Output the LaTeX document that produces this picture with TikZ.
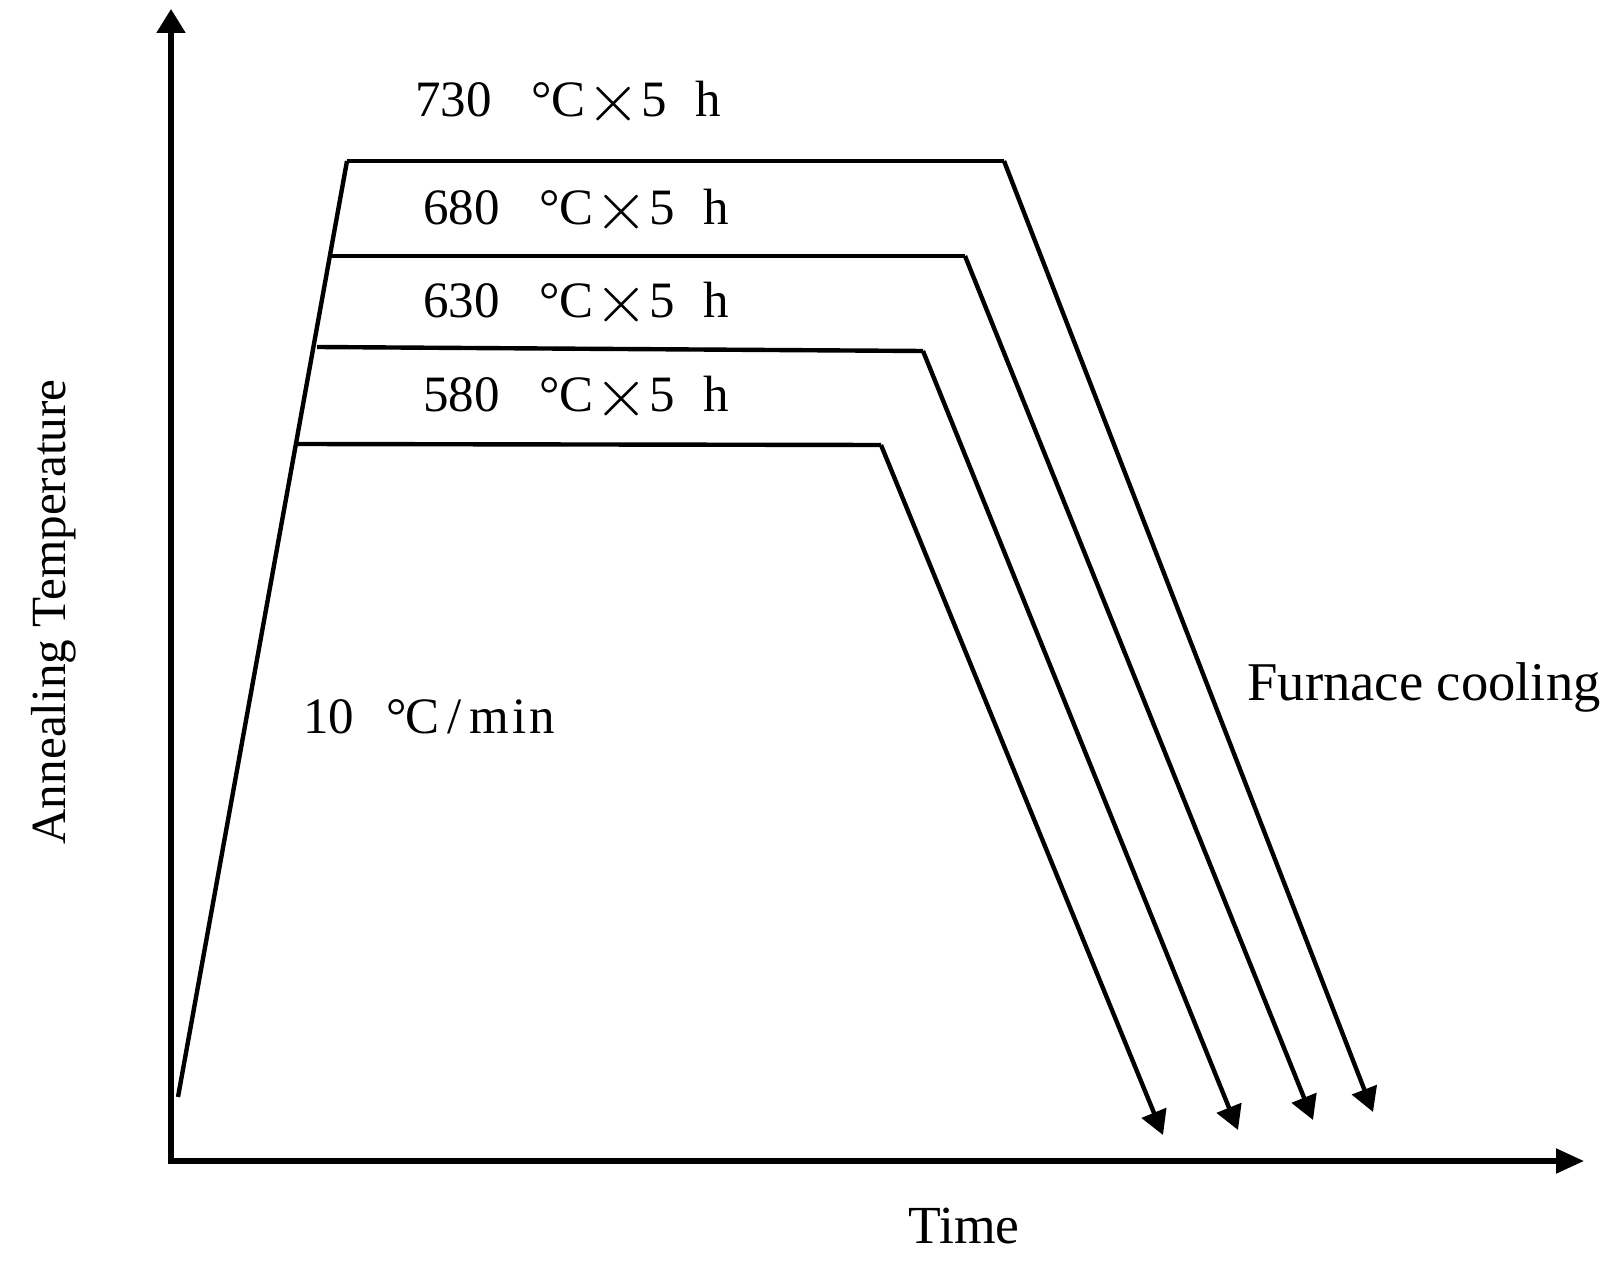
\documentclass[tikz,border=0pt]{standalone}
\usepackage{fontspec}
\setmainfont{Liberation Serif}
\usepackage{tikz}
\usetikzlibrary{arrows.meta}

\newcommand{\degC}{\textdegree\kern-0.5pt C}
\newcommand{\bigtimes}{\raisebox{-2.5pt}{\scalebox{1.4}{$\times$}}}
\newcommand{\holdtext}[1]{#1\hspace{20pt}\degC\hspace{0.5pt}\bigtimes\hspace{0.5pt}5\hspace{14pt}h}

\begin{document}
\begin{tikzpicture}[x=0.5pt,y=-0.5pt,
	holdlabel/.style={anchor=base west, inner sep=0pt, font=\fontsize{25.5}{30}\selectfont},
	cool/.style={line width=2.2pt, -{Triangle[length=12pt,width=13pt]}}]
	\useasboundingbox (0,0) rectangle (1616,1261);

	% Points
	\coordinate (o) at (171,1161);
	\coordinate (ytip) at (171,9);
	\coordinate (xtip) at (1584,1161);
	\coordinate (r0) at (178,1097);
	\coordinate (h730) at (347,161);
	\coordinate (h730_end) at (1004,161);
	\coordinate (c730) at (1373,1112);
	\coordinate (h680) at (330,256);
	\coordinate (h680_end) at (965,256);
	\coordinate (c680) at (1313,1120);
	\coordinate (h630) at (317,347);
	\coordinate (h630_end) at (923,351);
	\coordinate (c630) at (1238,1130);
	\coordinate (h580) at (297,444);
	\coordinate (h580_end) at (881,445);
	\coordinate (c580) at (1163,1135);

	% Axis
	\draw[line width=2.6pt, {Triangle[length=12pt,width=14pt]}-{Triangle[length=14pt,width=12pt]}] (ytip) -- (o) -- (xtip);

	% Lines
	\draw[line width=2.2pt] (r0) -- (h730);
	\foreach \t in {730, 680, 630, 580} {
			\draw[line width=2.2pt] (h\t) -- (h\t_end);
			\draw[cool] (h\t_end) -- (c\t);
	}

	% Hold tags
	\node[holdlabel] (t730) at (415,117) {\holdtext{730}};
	\node[holdlabel] (t680) at (423,225) {\holdtext{680}};
	\node[holdlabel] (t630) at (423,318) {\holdtext{630}};
	\node[holdlabel] (t580) at (423,412) {\holdtext{580}};
	\node[holdlabel] (rate) at (303,733) {10\hspace{16pt}\degC\hspace{4pt}/\hspace{4pt}m\hspace{1.5pt}i\hspace{1.5pt}n};

	% Axis tags
	\node[anchor=base west, inner sep=0pt, font=\fontsize{27.3}{32}\selectfont] (furnace) at (1247,700) {Furnace cooling};
	\node[anchor=base west, inner sep=0pt, font=\fontsize{26.8}{32}\selectfont] (time) at (908,1243) {Time};
	\node[anchor=base, rotate=90, inner sep=0pt, font=\fontsize{24.6}{30}\selectfont] (temp) at (65,612) {Annealing Temperature};
\end{tikzpicture}
\end{document}
